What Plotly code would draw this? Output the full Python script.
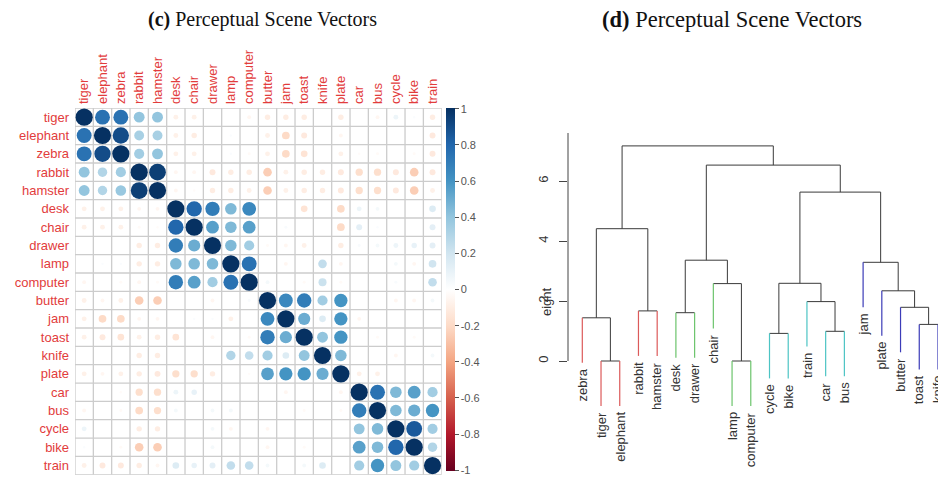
import math
import plotly.graph_objects as go

# ---------------- data: correlation matrix (panel c) ----------------
labels = ["tiger", "elephant", "zebra", "rabbit", "hamster", "desk", "chair", "drawer",
          "lamp", "computer", "butter", "jam", "toast", "knife", "plate", "car", "bus",
          "cycle", "bike", "train"]

corr = [
    [1.00, .75, .75, .40, .40, -.08, -.08, .00, .00, -.05, -.10, -.10, -.10, .00, -.10, .00, -.05, .08, .02, -.10],
    [.75, 1.00, .90, .33, .33, -.08, -.10, .00, .02, .00, -.08, -.20, -.12, .00, -.05, .00, .00, .00, .00, -.12],
    [.75, .90, 1.00, .35, .40, -.08, -.08, .00, .02, -.03, -.08, -.20, -.15, .00, -.08, -.02, -.03, .00, -.03, -.12],
    [.40, .30, .35, 1.00, .95, -.05, -.05, -.12, -.10, -.10, -.25, -.08, -.10, -.10, -.12, -.18, -.18, -.12, -.25, -.12],
    [.40, .30, .38, .95, 1.00, -.05, -.02, -.10, -.10, -.08, -.25, -.08, -.10, -.10, -.12, -.18, -.18, -.12, -.25, -.08],
    [-.08, -.08, -.08, -.05, -.05, 1.00, .80, .70, .45, .65, .00, .00, -.15, .00, -.20, .08, .05, .00, .00, .15],
    [-.08, -.08, -.08, -.03, -.02, .80, 1.00, .55, .45, .55, .00, .03, .00, .00, -.20, .12, .02, .00, .00, .12],
    [.00, .00, .00, -.10, -.10, .70, .50, 1.00, .45, .35, -.03, -.05, -.08, .00, -.10, .03, .05, .08, .10, .12],
    [.00, .02, .02, -.10, -.10, .45, .45, .45, 1.00, .75, .00, -.05, .00, .25, -.05, .00, .00, .05, -.05, .20],
    [-.05, .00, -.03, -.05, -.03, .70, .55, .35, .75, 1.00, .05, .00, -.03, .22, -.03, .00, .00, .03, .00, .25],
    [-.08, -.05, -.08, -.25, -.25, .00, .00, -.05, .00, .03, 1.00, .65, .70, .35, .60, .00, .00, -.05, -.05, .05],
    [-.08, -.20, -.20, -.05, -.05, .00, .02, .02, -.08, .00, .65, 1.00, .50, .15, .60, -.05, .00, .00, .00, .00],
    [-.08, -.12, -.15, -.08, -.10, -.15, .00, -.05, .00, -.03, .70, .50, 1.00, .40, .60, .00, -.03, .00, -.03, .00],
    [.00, .00, .00, -.10, -.10, .00, .00, .00, .30, .25, .35, .15, .40, 1.00, .45, .00, .00, -.05, .00, .05],
    [-.08, -.05, -.08, -.10, -.12, -.18, -.18, -.10, .00, -.02, .55, .60, .60, .50, 1.00, -.08, -.08, .00, .00, .00],
    [.00, .00, -.02, -.18, -.18, .08, .10, .00, .00, .00, .00, -.05, .00, .00, -.05, 1.00, .75, .45, .55, .35],
    [-.05, .00, -.03, -.20, -.18, .05, .00, .05, .05, .00, .00, .00, -.03, .00, -.03, .70, 1.00, .45, .50, .60],
    [.08, .00, .00, -.10, -.10, .00, .00, .05, -.05, .00, -.05, .00, .00, .00, .00, .40, .45, 1.00, .85, .35],
    [.02, .00, -.03, -.25, -.25, .00, .00, .05, .00, .00, -.05, .00, -.03, .00, .00, .55, .45, .80, 1.00, .30],
    [-.08, -.12, -.12, -.10, -.05, .15, .10, .12, .25, .25, .05, .00, .05, .15, .00, .35, .60, .40, .35, 1.00],
]

cbar_ticks = [1, 0.8, 0.6, 0.4, 0.2, 0, -0.2, -0.4, -0.6, -0.8, -1]
cbar_ticktext = ["1", "0.8", "0.6", "0.4", "0.2", "0", "-0.2", "-0.4", "-0.6", "-0.8", "-1"]

# ---------------- data: dendrogram (panel d) ----------------
leaf_order = ["zebra", "tiger", "elephant", "rabbit", "hamster", "desk", "drawer", "chair",
              "lamp", "computer", "cycle", "bike", "train", "car", "bus", "jam", "plate",
              "butter", "toast", "knife"]
# children: leaf name (str) or 1-based index of an earlier merge (int)
merge_left = ["tiger", "lamp", "cycle", "car", "toast", "zebra", "desk", "rabbit", "butter",
              "train", "plate", "chair", 3, "jam", 7, 6, 13, 15, 16]
merge_right = ["elephant", "computer", "bike", "bus", "knife", 1, "drawer", "hamster", 5,
               4, 9, 2, 10, 11, 12, 8, 14, 17, 18]
merge_height = [0.0, 0.0, 0.92, 0.99, 1.22, 1.44, 1.61, 1.67, 1.79, 1.98, 2.34, 2.58, 2.59,
                3.29, 3.36, 4.41, 5.63, 6.53, 7.17]
groups = [["zebra", "tiger", "elephant", "rabbit", "hamster"],
          ["desk", "drawer", "chair", "lamp", "computer"],
          ["cycle", "bike", "train", "car", "bus"],
          ["jam", "plate", "butter", "toast", "knife"]]
y_ticks = [0, 2, 4, 6]

# ---------------- styles ----------------
W, H = 938, 477
RED_LABEL = "#e23c3c"
GRID = "#cccccc"
group_colors = ["#dc5a5a", "#6cc46c", "#4cc4c4", "#3c3cb8"]
LINE = "#3a3a3a"
HANG = 1.5

colorscale = [[0.0, "#67001F"], [0.1, "#B2182B"], [0.2, "#D6604D"], [0.3, "#F4A582"],
              [0.4, "#FDDBC7"], [0.5, "#FFFFFF"], [0.6, "#D1E5F0"], [0.7, "#92C5DE"],
              [0.8, "#4393C3"], [0.9, "#2166AC"], [1.0, "#053061"]]

fig = go.Figure()

# ---------------- panel (c) ----------------
n = len(labels)
xs, ys, vals, sizes = [], [], [], []
for i in range(n):
    for j in range(n):
        v = corr[i][j]
        xs.append(j)
        ys.append(i)
        vals.append(v)
        sizes.append(17.2 * math.sqrt(abs(v)))

grid_l, grid_r, grid_t, grid_b = 75.0, 441.7, 108.0, 474.7
cb_bottom = 470.5
fig.add_trace(go.Scatter(
    x=xs, y=ys, mode="markers", xaxis="x", yaxis="y", hoverinfo="skip",
    marker=dict(size=sizes, color=vals, cmin=-1.004, cmax=1.004, colorscale=colorscale,
                opacity=1, line=dict(width=0),
                colorbar=dict(x=445.5 / W, xanchor="left", xpad=0, ypad=0,
                              y=1 - grid_t / H, yanchor="top", len=(cb_bottom - grid_t) / H,
                              lenmode="fraction", thickness=9, outlinewidth=0,
                              ticks="outside", ticklen=4, tickcolor="#555",
                              ticklabeloverflow="allow",
                              tickvals=cbar_ticks, ticktext=cbar_ticktext,
                              tickfont=dict(family="Liberation Sans", size=11, color="#555"))),
    showlegend=False))

shapes = []
for k in range(n + 1):
    shapes.append(dict(type="line", xref="x", yref="y", x0=k - 0.5, x1=k - 0.5,
                       y0=-0.5, y1=n - 0.5, line=dict(color=GRID, width=1.3), layer="below"))
    shapes.append(dict(type="line", xref="x", yref="y", y0=k - 0.5, y1=k - 0.5,
                       x0=-0.5, x1=n - 0.5, line=dict(color=GRID, width=1.3), layer="below"))

# ---------------- panel (d) ----------------
leaf_x = {name: idx for idx, name in enumerate(leaf_order)}
leaf_group = {}
for g, members in enumerate(groups):
    for m in members:
        leaf_group[m] = g

node_x = {}
node_h = {}
black_x, black_y = [], []
col_x = {g: [] for g in range(len(groups))}
col_y = {g: [] for g in range(len(groups))}
leaf_bottom = {}


def pos(c):
    return leaf_x[c] if isinstance(c, str) else node_x[c]


for k, (l, r, h) in enumerate(zip(merge_left, merge_right, merge_height), start=1):
    xl, xr = pos(l), pos(r)
    black_x += [xl, xr, None]
    black_y += [h, h, None]
    for c in (l, r):
        cx = pos(c)
        if isinstance(c, str):
            g = leaf_group[c]
            col_x[g] += [cx, cx, None]
            col_y[g] += [h - HANG, h, None]
            leaf_bottom[c] = h - HANG
        else:
            black_x += [cx, cx, None]
            black_y += [node_h[c], h, None]
    node_x[k] = (xl + xr) / 2
    node_h[k] = h

fig.add_trace(go.Scatter(x=black_x, y=black_y, mode="lines", xaxis="x2", yaxis="y2",
                         line=dict(color=LINE, width=1), hoverinfo="skip", showlegend=False))
for g in range(len(groups)):
    fig.add_trace(go.Scatter(x=col_x[g], y=col_y[g], mode="lines", xaxis="x2", yaxis="y2",
                             line=dict(color=group_colors[g], width=1.2), hoverinfo="skip",
                             showlegend=False))

annotations = []
for name in leaf_order:
    annotations.append(dict(x=leaf_x[name], y=leaf_bottom[name], xref="x2", yref="y2",
                            text=name, showarrow=False, textangle=-90, xanchor="center",
                            yanchor="top", yshift=-4,
                            font=dict(family="Liberation Sans", size=13, color="#333")))

# axis line of the dendrogram
shapes.append(dict(type="line", xref="x2 domain", yref="y2", x0=0, x1=0, y0=0, y1=7.6,
                   line=dict(color="#444", width=1)))

# "eight" axis title (clipped Height)
annotations.append(dict(x=546 / W, y=1 - 302 / H, xref="paper", yref="paper", text="eight",
                        showarrow=False, textangle=-90, xanchor="center", yanchor="middle",
                        font=dict(family="Liberation Sans", size=13, color="#333")))

# titles
annotations.append(dict(x=262 / W, y=1 - 20 / H, xref="paper", yref="paper",
                        text="<b>(c)</b> Perceptual Scene Vectors", showarrow=False,
                        xanchor="center", yanchor="middle",
                        font=dict(family="Liberation Serif", size=20, color="#111")))
annotations.append(dict(x=732 / W, y=1 - 20 / H, xref="paper", yref="paper",
                        text="<b>(d)</b> Perceptual Scene Vectors", showarrow=False,
                        xanchor="center", yanchor="middle",
                        font=dict(family="Liberation Serif", size=22.5, color="#111")))

ax_left = 568.0
leaf0_px, leaf_step = 582.3, 18.72
x2_lo = (ax_left - leaf0_px) / leaf_step
x2_hi = (W - leaf0_px) / leaf_step
zero_px, unit_px = 361.0, 30.0

fig.update_layout(
    width=W, height=H, margin=dict(l=0, r=0, t=0, b=0),
    paper_bgcolor="white", plot_bgcolor="rgba(0,0,0,0)",
    xaxis=dict(domain=[grid_l / W, grid_r / W], range=[-0.5, n - 0.5], side="top",
               tickvals=list(range(n)), ticktext=labels, tickangle=-90, ticks="",
               ticklabelstandoff=3, showgrid=False, zeroline=False, showline=False,
               tickfont=dict(family="Liberation Sans", size=13, color=RED_LABEL),
               fixedrange=True),
    yaxis=dict(domain=[1 - grid_b / H, 1 - grid_t / H], range=[n - 0.5, -0.5],
               tickvals=list(range(n)), ticktext=labels, ticks="", ticklabelstandoff=5,
               showgrid=False, zeroline=False, showline=False,
               tickfont=dict(family="Liberation Sans", size=13, color=RED_LABEL),
               fixedrange=True),
    xaxis2=dict(domain=[ax_left / W, 1.0], range=[x2_lo, x2_hi], visible=False,
                anchor="y2"),
    yaxis2=dict(domain=[0, 1], range=[(zero_px - H) / unit_px, zero_px / unit_px],
                anchor="x2", side="left", tickvals=y_ticks, tickangle=-90,
                ticks="outside", ticklen=8, tickcolor="#444", ticklabelstandoff=6,
                showgrid=False, zeroline=False, showline=False,
                tickfont=dict(family="Liberation Sans", size=13, color="#333")),
    shapes=shapes, annotations=annotations,
)

fig.write_html("out.html")
